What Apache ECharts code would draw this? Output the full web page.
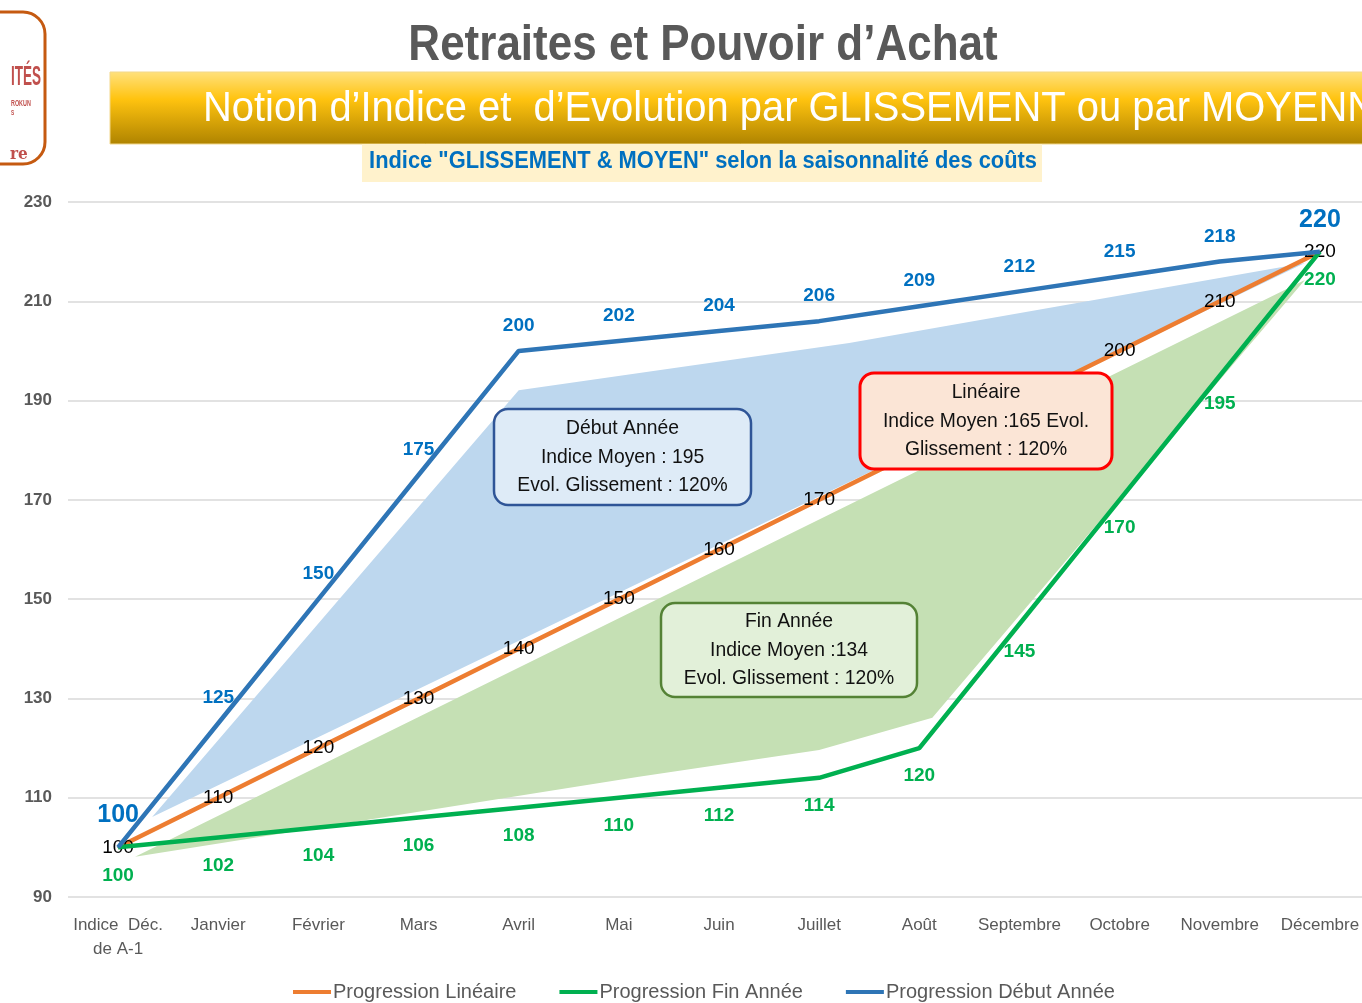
<!DOCTYPE html>
<html>
<head>
<meta charset="utf-8">
<script src="https://cdn.jsdelivr.net/npm/echarts@6/dist/echarts.min.js"></script>
<style>
	html, body { margin: 0; padding: 0; background: #fff; overflow: hidden; }
	#chart01 { width: 1370px; height: 1003px; }
</style>
</head>
<body>
<div id="chart01"></div>
<script>
// catégories (mois)
const categories = ['Indice  Déc.\nde A-1', 'Janvier', 'Février', 'Mars', 'Avril', 'Mai', 'Juin', 'Juillet', 'Août', 'Septembre', 'Octobre', 'Novembre', 'Décembre'];
// séries
const lineaire = [100, 110, 120, 130, 140, 150, 160, 170, 180, 190, 200, 210, 220];
const finAnnee = [100, 102, 104, 106, 108, 110, 112, 114, 120, 145, 170, 195, 220];
const debutAnnee = [100, 125, 150, 175, 200, 202, 204, 206, 209, 212, 215, 218, 220];
// axe Y
const yMin = 90;
const yMax = 230;
const yStep = 20;
// zones colorées [indice catégorie, valeur]
const zoneDebut = [[0.34, 106.1], [4.0, 192.1], [7.3, 201.6], [11.85, 217.7]];
const zoneFin = [[0.17, 98.1], [5.2, 114.2], [7.0, 119.6], [8.13, 126.1], [11.85, 214.3]];

const FONT = "'Liberation Sans', 'DejaVu Sans', sans-serif";

const chart = echarts.init(document.getElementById('chart01'), null, { renderer: 'canvas' });

// polygone d'une zone
function zoneSeries(points, color) {
	return {
		type: 'custom',
		xAxisIndex: 1,
		yAxisIndex: 0,
		z: 1,
		silent: true,
		data: points,
		encode: { x: 0, y: 1 },
		renderItem: function(params, api) {
			if (params.dataIndex !== 0) return null;
			return {
				type: 'polygon',
				shape: { points: points.map(p => api.coord(p)) },
				style: { fill: color }
			};
		}
	};
}

// texte condensé (élément graphique)
function condText(x, y, text, font, fill, sx, align) {
	return {
		type: 'text', x: x, y: y, scaleX: sx, z: 50,
		style: { x: 0, y: 0, text: text, font: font, fill: fill, align: align || 'center', verticalAlign: 'middle' }
	};
}

// boîte d'annotation
function noteBox(x, y, w, h, fill, stroke, lw, lines) {
	return {
		type: 'group',
		z: 100,
		children: [
			{
				type: 'rect', z: 100,
				shape: { x: x, y: y, width: w, height: h, r: 14 },
				style: { fill: fill, stroke: stroke, lineWidth: lw }
			},
			{
				type: 'text', z: 101,
				x: x + w / 2, y: y + h / 2, scaleX: 0.92,
				style: {
					x: 0, y: 0,
					text: lines.join('\n'),
					align: 'center', verticalAlign: 'middle',
					font: "21px " + FONT, lineHeight: 28.5, fill: '#111'
				}
			}
		]
	};
}

const option = {
	animation: false,
	grid: { left: 68, right: 0, top: 202, bottom: 106 },
	xAxis: [
		{
			type: 'category',
			data: categories,
			boundaryGap: true,
			axisLine: { show: false },
			axisTick: { show: false },
			axisLabel: {
				interval: 0, margin: 16, color: '#595959',
				fontFamily: FONT, fontSize: 17, lineHeight: 24
			}
		},
		{ type: 'value', min: -0.5, max: 12.5, show: false }
	],
	yAxis: {
		type: 'value',
		min: yMin, max: yMax, interval: yStep,
		axisLine: { show: false },
		axisTick: { show: false },
		axisLabel: { margin: 16, color: '#595959', fontFamily: FONT, fontSize: 17, fontWeight: 'bold' },
		splitLine: { lineStyle: { color: '#D9D9D9', width: 1.5 } }
	},
	legend: {
		data: ['Progression Linéaire', 'Progression Fin Année', 'Progression Début Année'],
		left: 293, top: 982,
		icon: 'rect', itemWidth: 38, itemHeight: 4, itemGap: 43,
		padding: 0,
		textStyle: { color: '#595959', fontFamily: FONT, fontSize: 20, padding: [0, 0, 0, -3] }
	},
	graphic: [
		// logo (coupé)
		{
			type: 'rect', shape: { x: -70, y: 12, width: 115, height: 152, r: 22 },
			style: { fill: '#fff', stroke: '#C55A11', lineWidth: 3 }
		},
		condText(11, 78, 'ITÉS', "bold 27px " + FONT, '#C0504D', 0.5, 'left'),
		condText(11, 104, 'ROKUN', "bold 9px " + FONT, '#C0504D', 0.6, 'left'),
		condText(11, 113, 'S', "bold 8px " + FONT, '#C0504D', 0.6, 'left'),
		condText(10, 155, 're', "bold 17px 'DejaVu Serif', serif", '#C0504D', 0.9, 'left'),
		// titre
		condText(703, 46, 'Retraites et Pouvoir d’Achat', "bold 50px " + FONT, '#595959', 0.88),
		// bandeau doré
		{
			type: 'rect', shape: { x: 110, y: 72, width: 1270, height: 72 },
			style: {
				fill: new echarts.graphic.LinearGradient(0, 0, 0, 1, [
					{ offset: 0, color: '#FFE17E' },
					{ offset: 0.38, color: '#FFC30F' },
					{ offset: 1, color: '#AE8300' }
				]),
				stroke: '#F2D78A', lineWidth: 1
			}
		},
		condText(203, 109, 'Notion d’Indice et  d’Evolution par GLISSEMENT ou par MOYENNE', "42px " + FONT, '#fff', 0.95, 'left'),
		// sous-titre
		{ type: 'rect', shape: { x: 362, y: 144, width: 680, height: 38 }, style: { fill: '#FFF2CC' } },
		condText(703, 162, 'Indice "GLISSEMENT & MOYEN" selon la saisonnalité des coûts', "bold 23px " + FONT, '#0070C0', 0.95),
		// annotations
		noteBox(494, 409, 257, 96, '#DEEBF7', '#2F5597', 2.5, ['Début Année', 'Indice Moyen : 195', 'Evol. Glissement : 120%']),
		noteBox(860, 373, 252, 96, '#FBE5D6', '#FF0000', 3, ['Linéaire', 'Indice Moyen :165 Evol.', 'Glissement : 120%']),
		noteBox(661, 603, 256, 94, '#E2F0D9', '#548235', 2.5, ['Fin Année', 'Indice Moyen :134', 'Evol. Glissement : 120%'])
	],
	series: [
		zoneSeries(zoneDebut, '#BDD7EE'),
		zoneSeries(zoneFin, '#C5E0B4'),
		{
			name: 'Progression Linéaire',
			type: 'line',
			data: lineaire,
			symbol: 'circle', symbolSize: 1,
			itemStyle: { color: '#ED7D31' },
			lineStyle: { color: '#ED7D31', width: 4.5 },
			z: 3,
			label: {
				show: true, position: 'inside', color: '#000',
				fontFamily: FONT, fontSize: 19
			}
		},
		{
			name: 'Progression Fin Année',
			type: 'line',
			data: finAnnee,
			symbol: 'circle', symbolSize: 1,
			itemStyle: { color: '#00B050' },
			lineStyle: { color: '#00B050', width: 4.5 },
			z: 4,
			label: {
				show: true, position: 'bottom', distance: 18, color: '#00B050',
				fontFamily: FONT, fontSize: 19, fontWeight: 'bold'
			}
		},
		{
			name: 'Progression Début Année',
			type: 'line',
			data: debutAnnee.map((v, i) => (i === 0 || i === debutAnnee.length - 1)
				? { value: v, label: { fontSize: 25, distance: 19 } }
				: v),
			symbol: 'circle', symbolSize: 1,
			itemStyle: { color: '#2E75B6' },
			lineStyle: { color: '#2E75B6', width: 4.5 },
			z: 5,
			label: {
				show: true, position: 'top', distance: 15, color: '#0070C0',
				fontFamily: FONT, fontSize: 19, fontWeight: 'bold'
			}
		}
	]
};

chart.setOption(option);
window.addEventListener('resize', chart.resize);
</script>
</body>
</html>
